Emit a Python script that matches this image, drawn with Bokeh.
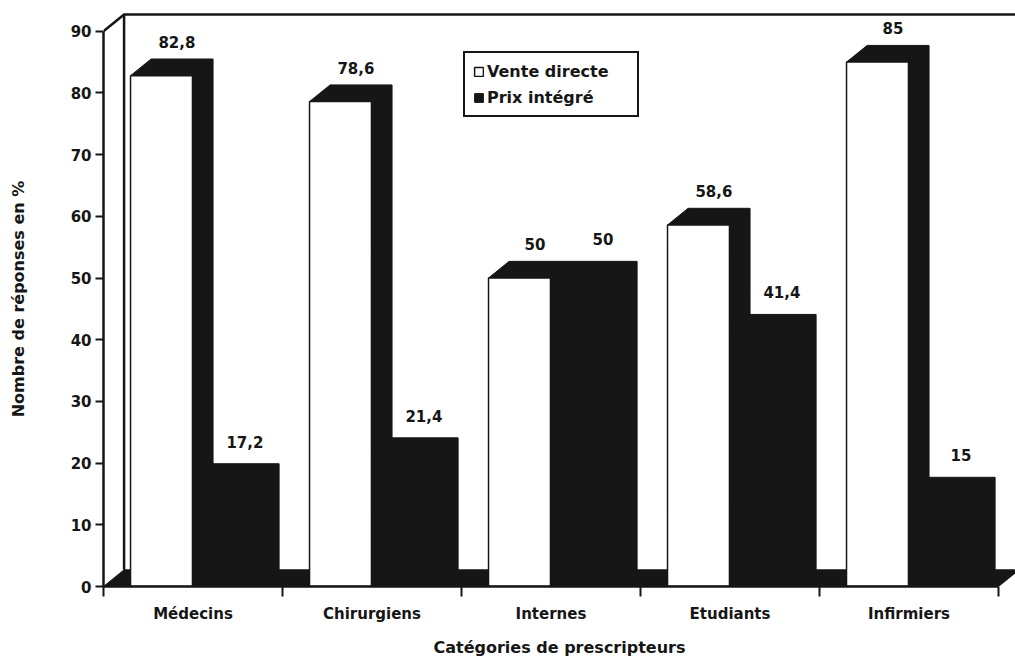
from bokeh.plotting import figure
from bokeh.models import Range1d, FixedTicker, ColumnDataSource, Legend, LegendItem
from bokeh.core.properties import value
from bokeh.embed import file_html
from bokeh.resources import INLINE

categories = ["Médecins", "Chirurgiens", "Internes", "Etudiants", "Infirmiers"]
vente_directe = [82.8, 78.6, 50, 58.6, 85]
prix_integre = [17.2, 21.4, 50, 41.4, 15]
labels_vente = ["82,8", "78,6", "50", "58,6", "85"]
labels_prix = ["17,2", "21,4", "50", "41,4", "15"]
y_ticks = [0, 10, 20, 30, 40, 50, 60, 70, 80, 90]
series_names = ["Vente directe", "Prix intégré"]

FONT = "DejaVu Sans"
DX, DY = 0.115, 2.7          # 3D depth offset (data units)
W0, W1 = 0.151, 0.497         # white bar front span within group
B0, B1 = 0.497, 0.866         # black bar front span within group
n = len(categories)
XEND = 5.095

p = figure(width=1015, height=659, output_backend="svg", toolbar_location=None,
           x_range=Range1d(0, XEND), y_range=Range1d(0, 93.2),
           min_border_left=103, min_border_right=0, min_border_top=11, min_border_bottom=73)
p.grid.visible = False
p.outline_line_color = None
p.background_fill_color = "white"

K = "#161616"

# floor
p.patch([0, DX, n + DX, n], [0, DY, DY, 0], fill_color=K, line_color=K)

# back wall / top edge
p.line([DX, DX], [DY, 90 + DY], line_color=K, line_width=2.5)
p.line([0, DX, XEND], [90, 90 + DY, 90 + DY], line_color=K, line_width=2.5)

# 3D parts of white bars (black top and side)
wx, wy = [], []
for i, v in enumerate(vente_directe):
    x0, x1 = i + W0, i + W1
    wx.append([x0, x0 + DX, x1 + DX, x1 + DX, x1])
    wy.append([v, v + DY, v + DY, DY, 0])
p.patches(wx, wy, fill_color=K, line_color=K)

# black bars (front + top + side)
bx, by = [], []
for i, v in enumerate(prix_integre):
    x0, x1 = i + B0, i + B1
    bx.append([x0, x0, x0 + DX, x1 + DX, x1 + DX, x1])
    by.append([0, v, v + DY, v + DY, DY, 0])
p.patches(bx, by, fill_color=K, line_color=K)

src = ColumnDataSource(dict(
    wl=[i + W0 for i in range(n)], wr=[i + W1 for i in range(n)],
    bl=[i + B0 for i in range(n)], br=[i + B1 for i in range(n)],
    vd=vente_directe, pi=prix_integre, zero=[0] * n,
    lx_w=[i + 0.41 for i in range(n)], lx_b=[i + 0.79 for i in range(n)],
    ly_w=[v + 5.5 for v in vente_directe], ly_b=[v + 6.3 for v in prix_integre],
    tw=labels_vente, tb=labels_prix))

r_black = p.quad(left="bl", right="br", bottom="zero", top="pi", source=src,
                 fill_color=K, line_color=K)
r_white = p.quad(left="wl", right="wr", bottom="zero", top="vd", source=src,
                 fill_color="white", line_color=K, line_width=1.5)

for xs, ys, ts in (("lx_w", "ly_w", "tw"), ("lx_b", "ly_b", "tb")):
    p.text(x=xs, y=ys, text=ts, source=src, text_align="center",
           text_baseline="middle", text_font=value(FONT), text_font_style="bold",
           text_font_size="15px", text_color=K)

# axes
ya = p.yaxis[0]
ya.ticker = FixedTicker(ticks=y_ticks)
ya.bounds = (0, 90)
ya.axis_line_width = 2.5
ya.axis_line_color = K
ya.major_tick_line_width = 2
ya.major_tick_line_color = K
ya.major_tick_in = 0
ya.major_tick_out = 8
ya.minor_tick_line_color = None
ya.major_label_text_font = FONT
ya.major_label_text_font_style = "bold"
ya.major_label_text_font_size = "15px"
ya.major_label_text_color = K
ya.major_label_standoff = 4
ya.axis_label = "Nombre de réponses en %"
ya.axis_label_text_font = FONT
ya.axis_label_text_font_style = "bold"
ya.axis_label_text_font_size = "16px"
ya.axis_label_text_color = K
ya.axis_label_standoff = 40

xa = p.xaxis[0]
xa.ticker = FixedTicker(ticks=[i + 0.5 for i in range(n)], minor_ticks=list(range(n + 1)))
xa.major_label_overrides = {i + 0.5: c for i, c in enumerate(categories)}
xa.bounds = (0, n)
xa.axis_line_width = 2.5
xa.axis_line_color = K
xa.major_tick_line_color = None
xa.major_tick_in = 0
xa.major_tick_out = 0
xa.minor_tick_in = 0
xa.minor_tick_out = 10
xa.minor_tick_line_width = 2
xa.minor_tick_line_color = K
xa.major_label_text_font = FONT
xa.major_label_text_font_style = "bold"
xa.major_label_text_font_size = "15px"
xa.major_label_text_color = K
xa.major_label_standoff = 8
xa.axis_label = "Catégories de prescripteurs"
xa.axis_label_text_font = FONT
xa.axis_label_text_font_style = "bold"
xa.axis_label_text_font_size = "16px"
xa.axis_label_text_color = K
xa.axis_label_standoff = 12

legend = Legend(items=[LegendItem(label=series_names[0], renderers=[r_white]),
                       LegendItem(label=series_names[1], renderers=[r_black])],
                location=(360, 469), orientation="vertical",
                border_line_color=K, border_line_width=2.5, border_line_alpha=1,
                background_fill_color="white", background_fill_alpha=1,
                label_text_font=FONT, label_text_font_style="bold",
                label_text_font_size="16px", label_text_color=K,
                glyph_width=11, glyph_height=11, label_standoff=3,
                label_width=142, label_height=20, spacing=6, padding=8, margin=0)
p.add_layout(legend)

open("out.html", "w").write(file_html(p, INLINE))
